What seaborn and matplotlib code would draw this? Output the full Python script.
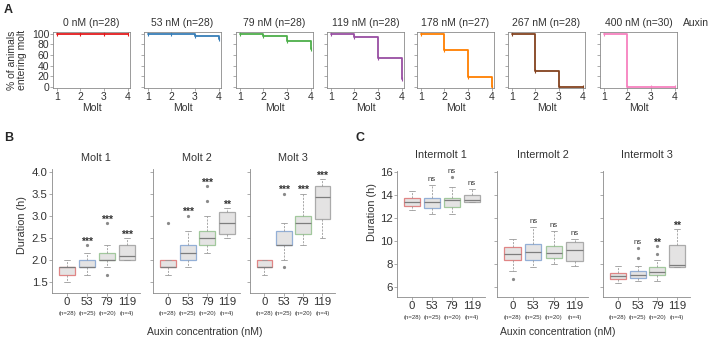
import matplotlib
matplotlib.use("Agg")
import matplotlib.pyplot as plt
import seaborn as sns

# ---- panel A: % of animals entering each molt ----
molts = [1, 2, 3, 4]
a_titles = ["0 nM (n=28)", "53 nM (n=28)", "79 nM (n=28)", "119 nM (n=28)",
            "178 nM (n=27)", "267 nM (n=28)", "400 nM (n=30)"]
pct_0 = [100, 100, 100, 100]
pct_53 = [100, 100, 96, 89]
pct_79 = [100, 96, 86, 71]
pct_119 = [100, 93, 54, 14]
pct_178 = [100, 70, 19, 0]
pct_267 = [100, 29, 0, 0]
pct_400 = [100, 0, 0, 0]
a_colors = ["#e41a1c", "#377eb8", "#4daf4a", "#984ea3", "#ff7f00", "#84421f", "#f781bf"]

# ---- panels B / C: box statistics (h) ----
conc = ["0", "53", "79", "119"]
n_labels = ["(n=28)", "(n=25)", "(n=20)", "(n=4)"]

molt1_q1 = [1.667, 1.833, 2.0, 2.0]
molt1_med = [1.833, 1.833, 2.0, 2.083]
molt1_q3 = [1.833, 2.0, 2.167, 2.333]
molt1_lo = [1.5, 1.667, 1.833, 2.0]
molt1_hi = [2.0, 2.167, 2.333, 2.5]
molt1_fl = [[], [2.333], [1.667, 2.833], []]
molt1_sig = ["", "***", "***", "***"]

molt2_q1 = [1.833, 2.0, 2.333, 2.583]
molt2_med = [1.833, 2.167, 2.5, 2.833]
molt2_q3 = [2.0, 2.333, 2.667, 3.083]
molt2_lo = [1.667, 1.833, 2.167, 2.5]
molt2_hi = [2.0, 2.667, 3.0, 3.167]
molt2_fl = [[2.833], [3.0], [3.333, 3.667], []]
molt2_sig = ["", "***", "***", "**"]

molt3_q1 = [1.833, 2.333, 2.583, 2.917]
molt3_med = [1.833, 2.333, 2.833, 3.417]
molt3_q3 = [2.0, 2.667, 3.0, 3.667]
molt3_lo = [1.667, 2.0, 2.333, 2.5]
molt3_hi = [2.0, 2.833, 3.5, 3.833]
molt3_fl = [[], [1.833, 3.5], [], []]
molt3_sig = ["", "***", "***", "***"]

inter1_q1 = [13.0, 12.83, 12.92, 13.33]
inter1_med = [13.33, 13.33, 13.5, 13.5]
inter1_q3 = [13.67, 13.67, 13.75, 14.0]
inter1_lo = [12.67, 12.33, 12.33, 13.33]
inter1_hi = [14.33, 14.83, 14.67, 14.5]
inter1_fl = [[], [], [15.5], []]
inter1_sig = ["", "ns", "ns", "ns"]

inter2_q1 = [8.33, 8.33, 8.5, 8.25]
inter2_med = [8.83, 9.0, 8.92, 9.17]
inter2_q3 = [9.42, 9.67, 9.5, 9.92]
inter2_lo = [7.33, 7.67, 8.0, 7.83]
inter2_hi = [10.17, 11.17, 10.83, 10.17]
inter2_fl = [[6.67], [], [], []]
inter2_sig = ["", "ns", "ns", "ns"]

inter3_q1 = [6.67, 6.75, 7.0, 7.67]
inter3_med = [6.92, 7.0, 7.25, 7.92]
inter3_q3 = [7.17, 7.33, 7.67, 9.58]
inter3_lo = [6.33, 6.5, 6.5, 7.67]
inter3_hi = [7.83, 7.83, 8.33, 11.0]
inter3_fl = [[], [8.5, 9.33], [8.83, 9.5], []]
inter3_sig = ["", "ns", "**", "**"]

box_edges = ["#e08585", "#93afd6", "#a2c89d", "#ababab"]
box_face = "#e4e3e3"

sns.set_style("ticks")
plt.rcParams["font.family"] = ["Liberation Sans", "DejaVu Sans"]
TXT = "#333333"
SPINE = "#8a8a8a"

W, H = 709, 339
fig = plt.figure(figsize=(W / 100, H / 100), dpi=100)


def rect(l, t, r, b):
    return [l / W, 1 - b / H, (r - l) / W, (b - t) / H]


# panel A
a_left = [53, 144, 236, 327, 417, 508, 600]
a_series = [pct_0, pct_53, pct_79, pct_119, pct_178, pct_267, pct_400]
for i in range(7):
    ax = fig.add_axes(rect(a_left[i], 32, a_left[i] + 77, 88))
    c = a_colors[i]
    sns.lineplot(x=molts, y=a_series[i], ax=ax, color=c, linewidth=1.3,
                 drawstyle="steps-post", marker="|", markersize=3,
                 markeredgecolor=c, markeredgewidth=0.8)
    ax.set_xlim(0.845, 4.1)
    ax.set_ylim(-2, 103)
    ax.set_xticks(molts)
    ax.set_yticks(range(0, 101, 20))
    if i > 0:
        ax.set_yticklabels([])
    ax.set_xlabel("Molt", fontsize=7.5, color=TXT, labelpad=0.5)
    ax.set_ylabel("")
    ax.tick_params(labelsize=7.5, length=2, width=0.5, pad=0.8,
                   color=SPINE, labelcolor=TXT)
    for s in ax.spines.values():
        s.set_color(SPINE)
        s.set_linewidth(0.6)
    ax.annotate(a_titles[i], xy=(0.5, 1), xycoords="axes fraction",
                xytext=(0, 6.5), textcoords="offset points",
                ha="center", va="center", fontsize=7.5, color=TXT)

fig.text(683 / W, 1 - 23 / H, "Auxin", fontsize=7.5, color=TXT, va="center")
fig.text(17 / W, 1 - 60 / H, "% of animals\nentering molt", rotation=90,
         fontsize=7.5, color=TXT, ha="center", va="center", linespacing=1.05)


def box_panel(box, q1, med, q3, lo, hi, fl, sig, ylim, yticks, title,
              labels, title_off):
    ax = fig.add_axes(rect(*box))
    stats = [dict(q1=q1[k], med=med[k], q3=q3[k], whislo=lo[k],
                  whishi=hi[k], fliers=fl[k]) for k in range(4)]
    parts = ax.bxp(stats, positions=range(4), widths=0.8, patch_artist=True,
                   capwidths=0.3,
                   whiskerprops=dict(color="#9a9a9a", lw=0.6,
                                     linestyle=(0, (2.5, 1.5))),
                   capprops=dict(color="#9a9a9a", lw=0.6),
                   medianprops=dict(color="#7d7d7d", lw=0.9),
                   flierprops=dict(marker="o", markersize=1.3,
                                   markerfacecolor="#8a8a8a",
                                   markeredgecolor="#8a8a8a"))
    for k, p in enumerate(parts["boxes"]):
        p.set_facecolor(box_face)
        p.set_edgecolor(box_edges[k])
        p.set_linewidth(0.9)
    for k in range(4):
        top = max([hi[k]] + fl[k])
        if sig[k] == "ns":
            ax.annotate(sig[k], xy=(k, top), xytext=(0, 4),
                        textcoords="offset points", ha="center",
                        va="center", fontsize=5.5, color=TXT)
        elif sig[k]:
            ax.annotate(sig[k], xy=(k, top), xytext=(0, 2.5),
                        textcoords="offset points", ha="center",
                        va="center", fontsize=7.5, fontweight="bold",
                        color=TXT)
        ax.annotate(n_labels[k], xy=(k, 0), xycoords=ax.get_xaxis_transform(),
                    xytext=(0, -14.4), textcoords="offset points",
                    ha="center", va="center", fontsize=4.3, color=TXT)
    ax.set_xlim(-0.75, 3.65)
    ax.set_ylim(*ylim)
    ax.set_xticks(range(4))
    ax.set_xticklabels(conc)
    ax.set_yticks(yticks)
    if labels is None:
        ax.set_yticklabels([])
    else:
        ax.set_yticklabels(labels)
    sns.despine(ax=ax)
    ax.tick_params(labelsize=8.2, length=2, width=0.5, pad=1.2,
                   color=SPINE, labelcolor=TXT)
    for s in ("left", "bottom"):
        ax.spines[s].set_color(SPINE)
        ax.spines[s].set_linewidth(0.6)
    ax.annotate(title, xy=(0.5, 1), xycoords="axes fraction",
                xytext=(0, title_off), textcoords="offset points",
                ha="center", va="center", fontsize=7.8, color=TXT)
    return ax


b_ticks = [1.5, 2.0, 2.5, 3.0, 3.5, 4.0]
b_lab = ["1.5", "2.0", "2.5", "3.0", "3.5", "4.0"]
b_lim = (1.25, 4.05)
box_panel((52, 169.5, 140, 293), molt1_q1, molt1_med, molt1_q3, molt1_lo,
          molt1_hi, molt1_fl, molt1_sig, b_lim, b_ticks, "Molt 1", b_lab, 8.3)
box_panel((153, 169.5, 240, 293), molt2_q1, molt2_med, molt2_q3, molt2_lo,
          molt2_hi, molt2_fl, molt2_sig, b_lim, b_ticks, "Molt 2", None, 8.3)
box_panel((250, 169.5, 335, 293), molt3_q1, molt3_med, molt3_q3, molt3_lo,
          molt3_hi, molt3_fl, molt3_sig, b_lim, b_ticks, "Molt 3", None, 8.3)

c_ticks = [6, 8, 10, 12, 14, 16]
c_lab = [str(t) for t in c_ticks]
c_lim = (5.1, 16.1)
box_panel((397, 170.5, 485, 297), inter1_q1, inter1_med, inter1_q3, inter1_lo,
          inter1_hi, inter1_fl, inter1_sig, c_lim, c_ticks, "Intermolt 1",
          c_lab, 11)
box_panel((497, 170.5, 588, 297), inter2_q1, inter2_med, inter2_q3, inter2_lo,
          inter2_hi, inter2_fl, inter2_sig, c_lim, c_ticks, "Intermolt 2",
          None, 11)
box_panel((603, 170.5, 690, 297), inter3_q1, inter3_med, inter3_q3, inter3_lo,
          inter3_hi, inter3_fl, inter3_sig, c_lim, c_ticks, "Intermolt 3",
          None, 11)

fig.text(22 / W, 1 - 225 / H, "Duration (h)", rotation=90, fontsize=7.8,
         color=TXT, ha="center", va="center")
fig.text(372 / W, 1 - 212 / H, "Duration (h)", rotation=90, fontsize=7.8,
         color=TXT, ha="center", va="center")
fig.text(205 / W, 1 - 332 / H, "Auxin concentration (nM)", fontsize=7.5,
         color=TXT, ha="center", va="center")
fig.text(558 / W, 1 - 332 / H, "Auxin concentration (nM)", fontsize=7.5,
         color=TXT, ha="center", va="center")

fig.text(4 / W, 1 - 10 / H, "A", fontsize=9, fontweight="bold", va="center")
fig.text(4 / W, 1 - 138 / H, "B", fontsize=9, fontweight="bold", va="center")
fig.text(355 / W, 1 - 138 / H, "C", fontsize=9, fontweight="bold", va="center")

fig.savefig("out.png", dpi=100)
